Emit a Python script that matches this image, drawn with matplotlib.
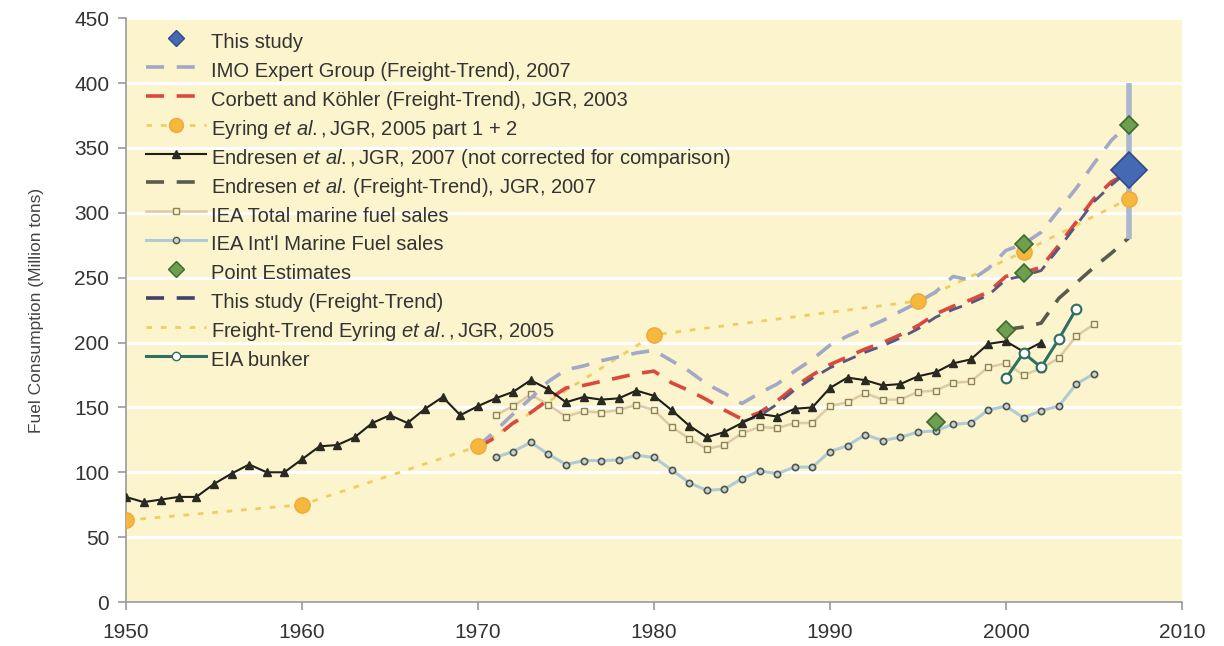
import matplotlib.pyplot as plt
from matplotlib.lines import Line2D

plt.rcParams['font.family'] = ['Liberation Sans', 'DejaVu Sans']
plt.rcParams['mathtext.fontset'] = 'custom'
plt.rcParams['mathtext.rm'] = 'Liberation Sans'
plt.rcParams['mathtext.it'] = 'Liberation Sans:italic'

# Endresen et al. 2007, not corrected (1950-2002)
endresen_years = list(range(1950, 2003))
endresen = [81, 77, 79, 81, 81, 91, 99, 106, 100, 100,
            110, 120, 121, 127, 138, 144, 138, 149, 158, 144,
            151, 157, 162, 171, 164, 154, 158, 156, 157, 163,
            159, 148, 136, 127, 131, 138, 145, 143, 149, 150,
            165, 173, 171, 167, 168, 174, 177, 184, 187, 199,
            201, 193, 200]

# IEA sales (1971-2005)
iea_years = list(range(1971, 2006))
iea_total = [144, 151, 160, 152, 143, 147, 146, 148, 152, 148,
             135, 126, 118, 121, 130, 135, 134, 138, 138, 151,
             154, 161, 156, 156, 162, 163, 169, 170, 181, 184,
             175, 180, 188, 205, 214]
iea_intl = [111.5, 116, 123, 114, 106, 109, 109, 109.5, 113, 111.5,
            102, 92, 86, 87, 95, 101, 99, 104, 104, 116,
            120.5, 129, 124.5, 127, 131, 132, 137, 138, 148, 151,
            142, 147.5, 151, 168, 176]

# EIA bunker
eia_years = [2000, 2001, 2002, 2003, 2004]
eia_bunker = [172.5, 192, 181, 202.5, 226]

# Freight-trend backcasts (1970-2007)
ft_years = list(range(1970, 2008))
imo_ft = [120, 132, 145, 157, 170, 179, 182, 186, 189, 192,
          194, 186, 178, 168, 161, 153, 161, 168, 178, 187,
          198, 205, 211, 217, 224, 231, 239, 251, 248, 257,
          271, 276, 285, 302, 319, 338, 356, 369]
corbett_ft = [119, 127, 138, 146, 156, 165, 167, 170, 173, 176,
              178, 169, 163, 156, 148, 141, 146, 155, 166, 175,
              183, 189, 195, 200, 206, 213, 222, 228, 233, 239,
              251, 254, 258, 275, 293, 311, 324, 331]

this_ft_years = list(range(1985, 2008))
this_study_ft = [139, 143.5, 152.5, 163.5, 172.5, 180.5, 186.5, 192.5, 197.5, 203.5,
                 210.5, 219.5, 225.5, 230.5, 236.5, 248.5, 251.5, 255.5, 272.5, 290.5,
                 308.5, 321.5, 333]

endresen_ft_years = [2000, 2001, 2002, 2003, 2004, 2005, 2006, 2007]
endresen_ft = [210, 212, 215, 234, 246, 258, 269, 281]

# Eyring et al. 2005 (points, joined by the freight trend)
eyring_years = [1950, 1960, 1970, 1980, 1995, 2001, 2007]
eyring = [63, 75, 120, 206, 232, 270, 311]

# Point estimates
point_years = [1996, 2000, 2001, 2001, 2007]
point_vals = [139, 210, 254, 276, 368]

# This study, 2007 with range
study_year = [2007]
study_val = [333]
study_low = [280]
study_high = [400]

c_bg = '#FBF4CD'
c_study = '#4569B3'
c_imo = '#A3A8C6'
c_corbett = '#D9493E'
c_eyring = '#F6B73E'
c_eyring_ft = '#EBCF62'
c_endresen = '#1E1E1A'
c_endresen_ft = '#5A5B4C'
c_iea_total = '#DCCBA4'
c_iea_intl = '#AFCBD6'
c_point = '#6E9E4F'
c_study_ft = '#5E557E'
c_eia = '#2F6E62'
dash = (0, (5, 3.5))
dots = (0, (2, 3.2))

fig = plt.figure(figsize=(12.24, 6.46), dpi=100)
ax = fig.add_axes([0.1029, 0.0681, 0.8627, 0.9036])
ax.set_facecolor(c_bg)

lw_ft = 2.6
ax.plot(eyring_years, eyring, color=c_eyring_ft, lw=2, ls=dots, zorder=2)
ax.plot(iea_years, iea_total, color=c_iea_total, lw=1.8, marker='s', ms=4.5,
        mfc=c_bg, mec='#8F8358', mew=1, zorder=3)
ax.plot(iea_years, iea_intl, color=c_iea_intl, lw=2.2, marker='o', ms=4.5,
        mfc='#C9D4D0', mec='#4E5650', mew=1.2, zorder=3)
ax.plot(endresen_years, endresen, color=c_endresen, lw=1.5, marker='^', ms=6,
        mfc='#2A2A22', mec='#2A2A22', zorder=4)
ax.plot(ft_years, imo_ft, color=c_imo, lw=lw_ft, ls=dash, zorder=3)
ax.plot(ft_years, corbett_ft, color=c_corbett, lw=lw_ft, ls=dash, zorder=3)
ax.plot(this_ft_years, this_study_ft, color=c_study_ft, lw=lw_ft - 0.6, ls=dash, zorder=3)
ax.plot(endresen_ft_years, endresen_ft, color=c_endresen_ft, lw=lw_ft, ls=dash, zorder=3)
ax.plot(eia_years, eia_bunker, color=c_eia, lw=2.2, marker='o', ms=7,
        mfc='white', mec=c_eia, mew=1.5, zorder=5)
ax.plot(eyring_years, eyring, ls='none', marker='o', ms=11,
        mfc=c_eyring, mec='#EFA83A', mew=1, zorder=6)

ax.vlines(study_year, study_low, study_high, color='#A9B7CF', lw=4, zorder=5)
ax.plot(point_years, point_vals, ls='none', marker='D', ms=9,
        mfc=c_point, mec='#3E6A30', mew=1.2, zorder=7)
ax.plot(study_year, study_val, ls='none', marker='D', ms=18,
        mfc=c_study, mec='#2F4C88', mew=1.2, zorder=8)

ax.set_xlim(1950, 2010)
ax.set_ylim(0, 450)
ax.set_xticks(range(1950, 2011, 10))
ax.set_yticks(range(0, 451, 50))
ax.grid(axis='y', color='white', lw=2.2)
ax.set_axisbelow(True)
for s in ['top', 'right']:
    ax.spines[s].set_visible(False)
for s in ['left', 'bottom']:
    ax.spines[s].set_color('#9A9A9A')
    ax.spines[s].set_linewidth(1.2)
ax.tick_params(labelsize=15, labelcolor='#333333', color='#9A9A9A', length=6, width=1.2)
ax.tick_params(axis='x', pad=9)
ax.tick_params(axis='y', pad=6)
ax.set_ylabel('Fuel Consumption (Million tons)', fontsize=12.5, color='#444444')
ax.yaxis.set_label_coords(-0.078, 0.5)

handles = [
    Line2D([], [], ls='none', marker='D', ms=8, mfc=c_study, mec='#2F4C88'),
    Line2D([], [], color=c_imo, lw=lw_ft, ls=dash),
    Line2D([], [], color=c_corbett, lw=lw_ft, ls=dash),
    Line2D([], [], color=c_eyring_ft, lw=2, ls=dots, marker='o', ms=10,
           mfc=c_eyring, mec='#EFA83A'),
    Line2D([], [], color=c_endresen, lw=1.5, marker='^', ms=6, mfc='#2A2A22', mec='#2A2A22'),
    Line2D([], [], color=c_endresen_ft, lw=lw_ft, ls=dash),
    Line2D([], [], color=c_iea_total, lw=1.8, marker='s', ms=4.5, mfc=c_bg, mec='#8F8358'),
    Line2D([], [], color=c_iea_intl, lw=2.2, marker='o', ms=4.5, mfc='#C9D4D0', mec='#4E5650'),
    Line2D([], [], ls='none', marker='D', ms=8, mfc=c_point, mec='#3E6A30'),
    Line2D([], [], color='#3F4266', lw=lw_ft, ls=dash),
    Line2D([], [], color=c_eyring_ft, lw=2, ls=dots),
    Line2D([], [], color=c_eia, lw=2.2, marker='o', ms=6, mfc='white', mec=c_eia),
]
labels = [
    'This study',
    'IMO Expert Group (Freight-Trend), 2007',
    'Corbett and Köhler (Freight-Trend), JGR, 2003',
    r'Eyring $\it{et\ al.,}$JGR, 2005 part 1 + 2',
    r'Endresen $\it{et\ al.,}$JGR, 2007 (not corrected for comparison)',
    r'Endresen $\it{et\ al.}\,$(Freight-Trend), JGR, 2007',
    'IEA Total marine fuel sales',
    "IEA Int'l Marine Fuel sales",
    'Point Estimates',
    'This study (Freight-Trend)',
    r'Freight-Trend Eyring $\it{et\ al.,}$JGR, 2005',
    'EIA bunker',
]
leg = ax.legend(handles, labels, loc='upper left', bbox_to_anchor=(0.019, 0.984),
                frameon=False, fontsize=14.5, handlelength=3.0, handleheight=1.755,
                handletextpad=0.25, labelspacing=0.05, borderpad=0, borderaxespad=0)
for t in leg.get_texts():
    t.set_color('#333333')

fig.savefig('out.png', dpi=100)
